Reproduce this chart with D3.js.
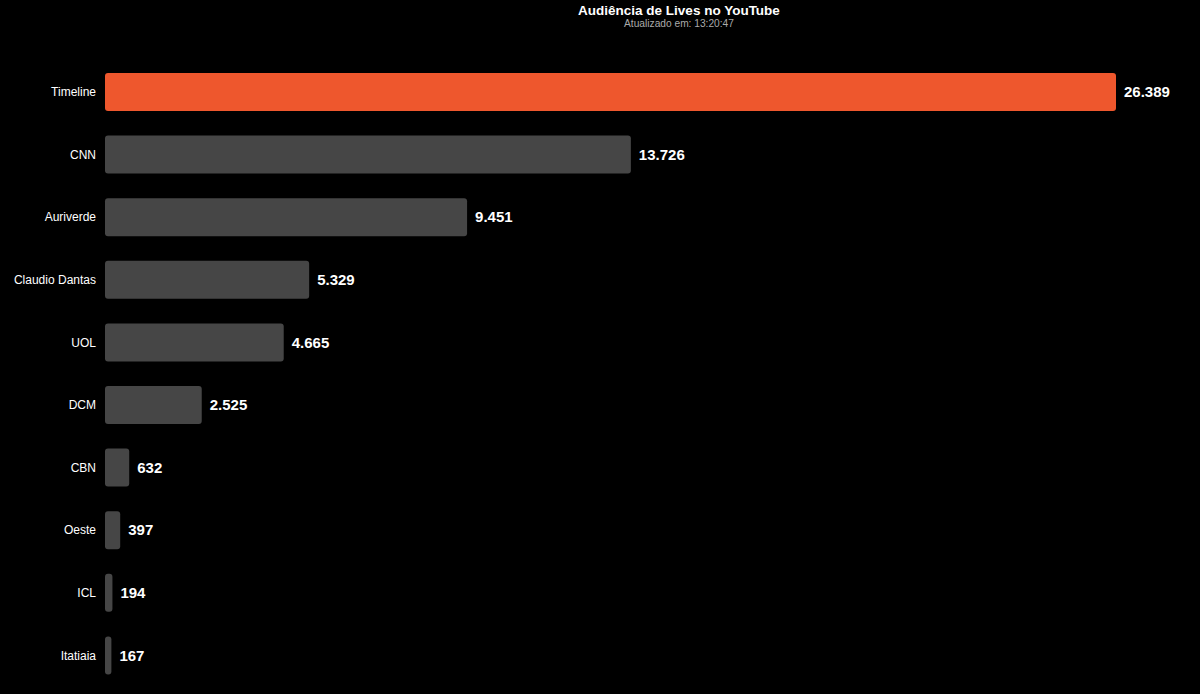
<!DOCTYPE html>
<html><head><meta charset="utf-8">
<script src="https://cdn.jsdelivr.net/npm/d3@7"></script>
<style>html,body{margin:0;padding:0;background:#000;}svg{display:block;}</style>
</head><body>
<svg id="chart" width="1200" height="694"></svg>
<script>
const categories = ["Timeline","CNN","Auriverde","Claudio Dantas","UOL","DCM","CBN","Oeste","ICL","Itatiaia"];
const values = [26389,13726,9451,5329,4665,2525,632,397,194,167];
const valueLabels = ["26.389","13.726","9.451","5.329","4.665","2.525","632","397","194","167"];
const highlight = "Timeline";

const svg = d3.select("#chart");
const left = 105;
const x = d3.scaleLinear().domain([0, d3.max(values)]).range([left, 1116]);
const y = d3.scaleBand().domain(categories).range([60.7, 686.7]).paddingInner(0.393).paddingOuter(0.196);

svg.append("rect").attr("width",1200).attr("height",694).attr("fill","#000");

svg.append("text").attr("x",679).attr("y",15).attr("text-anchor","middle")
  .attr("font-family","Liberation Sans, Arial, sans-serif").attr("font-weight","bold")
  .attr("font-size",13.5).attr("fill","#fff").text("Audiência de Lives no YouTube");
svg.append("text").attr("x",679).attr("y",27).attr("text-anchor","middle")
  .attr("font-family","Liberation Sans, Arial, sans-serif")
  .attr("font-size",10.2).attr("fill","#aaa").text("Atualizado em: 13:20:47");

const data = categories.map((c,i)=>({c, v:values[i], l:valueLabels[i]}));

svg.selectAll("rect.bar").data(data).join("rect").attr("class","bar")
  .attr("x", x(0)).attr("y", d=>y(d.c))
  .attr("width", d=>x(d.v)-x(0)).attr("height", y.bandwidth())
  .attr("rx", 3).attr("ry", 3)
  .attr("fill", d=>d.c===highlight ? "#ee572d" : "#464646");

svg.selectAll("text.cat").data(data).join("text").attr("class","cat")
  .attr("x", 96).attr("y", d=>y(d.c)+y.bandwidth()/2).attr("dy","0.35em")
  .attr("text-anchor","end").attr("font-family","Liberation Sans, Arial, sans-serif")
  .attr("font-size",12).attr("fill","#fff").text(d=>d.c);

svg.selectAll("text.val").data(data).join("text").attr("class","val")
  .attr("x", d=>x(d.v)+8).attr("y", d=>y(d.c)+y.bandwidth()/2).attr("dy","0.35em")
  .attr("font-family","Liberation Sans, Arial, sans-serif").attr("font-weight","bold")
  .attr("font-size",15).attr("fill","#fff").text(d=>d.l);
</script>
</body></html>
